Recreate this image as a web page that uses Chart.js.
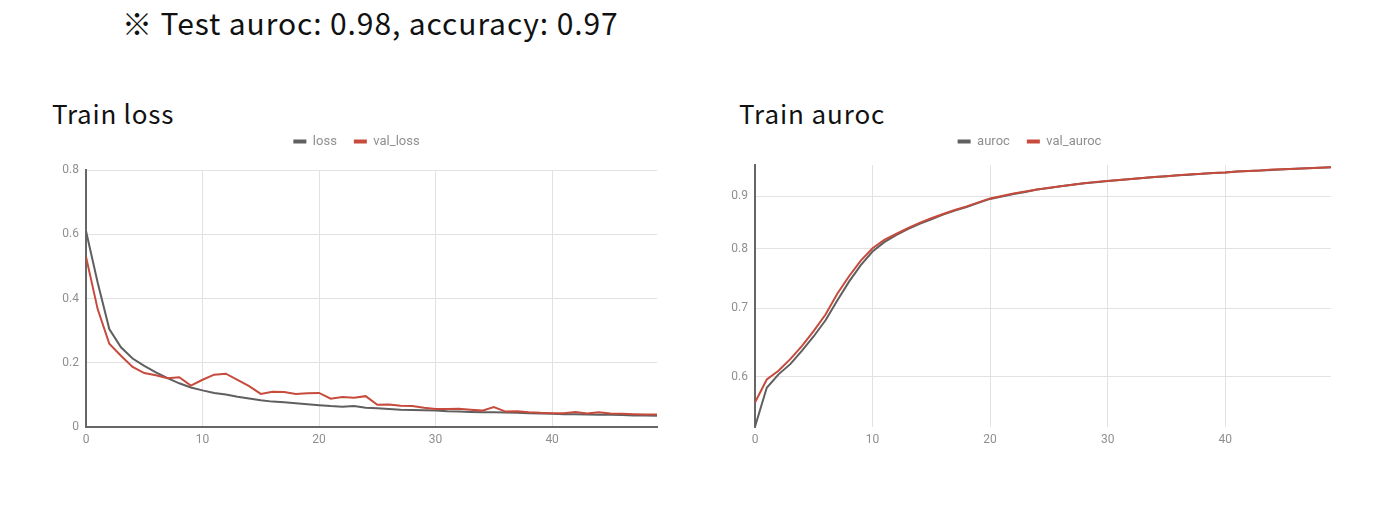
<!DOCTYPE html>
<html><head><meta charset="utf-8">
<script src="https://cdn.jsdelivr.net/npm/chart.js@4/dist/chart.umd.min.js"></script>
<style>
html,body{margin:0;padding:0;background:#fff;width:1400px;height:518px;overflow:hidden;position:relative;}
.t{position:absolute;color:#111;white-space:nowrap;font-family:"Noto Sans CJK KR","Noto Sans",sans-serif;line-height:1;}
#top{left:122px;top:7px;font-size:30px;letter-spacing:0.9px;}
#t1{left:52px;top:100px;font-size:26px;letter-spacing:0.75px;}
#t2{left:739px;top:100px;font-size:26px;letter-spacing:0.9px;}
.box{position:absolute;top:118px;height:342px;}
#b1{left:56px;width:617px;}
#b2{left:728px;width:619px;}
</style></head>
<body>
<div class="t" id="top">※ Test auroc: 0.98, accuracy: 0.97</div>
<div class="t" id="t1">Train loss</div>
<div class="t" id="t2">Train auroc</div>
<div class="box" id="b1"><canvas id="c1"></canvas></div>
<div class="box" id="b2"><canvas id="c2"></canvas></div>
<script>
const epochs = [0,1,2,3,4,5,6,7,8,9,10,11,12,13,14,15,16,17,18,19,20,21,22,23,24,25,26,27,28,29,30,31,32,33,34,35,36,37,38,39,40,41,42,43,44,45,46,47,48,49];
const loss = [0.61,0.45,0.305,0.248,0.213,0.19,0.17,0.152,0.136,0.123,0.114,0.106,0.101,0.094,0.089,0.083,0.079,0.077,0.074,0.071,0.068,0.065,0.063,0.065,0.060,0.058,0.056,0.054,0.053,0.052,0.051,0.049,0.048,0.047,0.046,0.046,0.045,0.044,0.043,0.042,0.041,0.040,0.040,0.039,0.038,0.038,0.037,0.036,0.036,0.035];
const valLoss = [0.53,0.367,0.259,0.222,0.187,0.168,0.161,0.152,0.155,0.129,0.147,0.163,0.166,0.147,0.127,0.103,0.110,0.109,0.103,0.105,0.106,0.088,0.093,0.091,0.096,0.069,0.070,0.066,0.065,0.060,0.056,0.056,0.057,0.054,0.051,0.062,0.048,0.049,0.046,0.044,0.043,0.043,0.047,0.042,0.046,0.042,0.041,0.040,0.039,0.039];
const auroc = [0.536,0.585,0.603,0.617,0.636,0.657,0.681,0.712,0.743,0.771,0.795,0.812,0.825,0.836,0.846,0.855,0.864,0.872,0.879,0.887,0.895,0.900,0.905,0.909,0.914,0.917,0.921,0.924,0.927,0.929,0.932,0.934,0.936,0.938,0.940,0.942,0.944,0.945,0.947,0.949,0.950,0.952,0.953,0.954,0.955,0.957,0.958,0.959,0.960,0.961];
const valAuroc = [0.566,0.596,0.608,0.624,0.643,0.665,0.690,0.723,0.752,0.779,0.801,0.816,0.827,0.838,0.848,0.857,0.865,0.873,0.880,0.888,0.896,0.901,0.906,0.910,0.914,0.918,0.921,0.924,0.927,0.930,0.932,0.934,0.936,0.938,0.940,0.942,0.944,0.946,0.947,0.949,0.950,0.952,0.953,0.954,0.956,0.957,0.958,0.959,0.960,0.961];
const xTicks = [0,10,20,30,40];
const lossTicks = [0,0.2,0.4,0.6,0.8];
const lossTickLabels = ['0','0.2','0.4','0.6','0.8'];
const aurocTicks = [0.6,0.7,0.8,0.9];
const aurocTickLabels = ['0.6','0.7','0.8','0.9'];

const GRAY = '#5f5f5f', RED = '#c64b3d', GRID = '#e2e2e2', BASE = '#666', TXT = '#8f8f8f';
Chart.defaults.font.family = 'Roboto, "Noto Sans", sans-serif';
Chart.defaults.animation = false;

function legendPad(extra){
  return {id:'legendPad', beforeInit(chart){
    const fit = chart.legend.fit;
    chart.legend.fit = function(){ fit.bind(chart.legend)(); this.height += extra; };
  }};
}
function setTicks(vals){ return (scale)=>{ scale.ticks = vals.map(v=>({value:v})); }; }

function make(id, names, series, yOpts, xBorder, yWidth, extraTop){
  return new Chart(document.getElementById(id), {
    type:'line',
    data:{labels:epochs, datasets:[
      {label:names[0], data:series[0], borderColor:GRAY, backgroundColor:GRAY, borderWidth:2, pointRadius:0, order:2},
      {label:names[1], data:series[1], borderColor:RED, backgroundColor:RED, borderWidth:2, pointRadius:0, order:1}
    ]},
    options:{
      responsive:true, maintainAspectRatio:false,
      layout:{padding:{left:0,right:16,top:0,bottom:0}},
      plugins:{
        legend:{position:'top', align:'center',
          labels:{boxWidth:13, boxHeight:4, padding:17, color:TXT, font:{size:13},
            sort:(a,b)=>a.datasetIndex-b.datasetIndex,
            generateLabels:(chart)=>Chart.defaults.plugins.legend.labels.generateLabels(chart).map(l=>Object.assign(l,{lineWidth:0}))}},
        tooltip:{enabled:false}
      },
      scales:{
        x:{type:'linear', min:0, max:49,
          afterBuildTicks:setTicks(xTicks),
          afterFit:(s)=>{s.height=33;},
          ticks:{color:TXT, font:{size:12}, padding:6, includeBounds:false, callback:(v)=>String(v)},
          grid:{drawTicks:false, color:(c)=> (c.tick && c.tick.value===0) ? 'rgba(0,0,0,0)' : GRID, lineWidth:1},
          border:{display:xBorder, color:BASE, width:2}
        },
        y:Object.assign({
          afterFit:(s)=>{s.width=yWidth;},
          grid:{drawTicks:false, color:GRID, lineWidth:1},
          border:{display:true, color:BASE, width:2}
        }, yOpts)
      }
    },
    plugins:[legendPad(extraTop)]
  });
}

make('c1', ['loss','val_loss'], [loss, valLoss], {
  type:'linear', min:0, max:0.8,
  afterBuildTicks:setTicks(lossTicks),
  ticks:{color:TXT, font:{size:12}, padding:7, callback:(v)=>lossTickLabels[lossTicks.indexOf(v)] ?? ''}
}, true, 30, 12);

make('c2', ['auroc','val_auroc'], [auroc, valAuroc], {
  type:'logarithmic', min:0.5356, max:0.966,
  afterBuildTicks:setTicks(aurocTicks),
  ticks:{color:TXT, font:{size:12}, padding:7, callback:(v)=>aurocTickLabels[aurocTicks.indexOf(v)] ?? ''}
}, false, 27, 7);
</script>
</body></html>
